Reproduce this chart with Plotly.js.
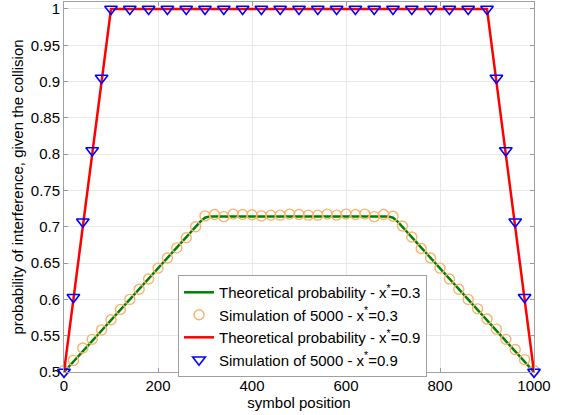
<!DOCTYPE html>
<html>
<head>
<meta charset="utf-8">
<script src="https://cdn.plot.ly/plotly-3.0.1.min.js"></script>
<style>html,body{margin:0;padding:0;background:#fff;}#chart{width:565px;height:415px;}</style>
</head>
<body>
<div id="chart"></div>
<script>
// Theoretical probability, x* = 0.3
const xTheo03 = [0, 290, 300, 310, 690, 700, 710, 1000];
const yTheo03 = [0.5, 0.7071, 0.7125, 0.7143, 0.7143, 0.7125, 0.7071, 0.5];

// Simulation of 5000, x* = 0.3
const xSim03 = [0, 20, 40, 60, 80, 100, 120, 140, 160, 180, 200, 220, 240, 260, 280, 300,
  320, 340, 360, 380, 400, 420, 440, 460, 480, 500, 520, 540, 560, 580, 600, 620, 640, 660, 680, 700,
  720, 740, 760, 780, 800, 820, 840, 860, 880, 900, 920, 940, 960, 980, 1000];
const ySim03 = [0.502, 0.516, 0.533, 0.545, 0.558, 0.572, 0.586, 0.600, 0.614, 0.628, 0.643, 0.657, 0.671, 0.685, 0.700, 0.7150,
  0.7170, 0.7140, 0.7175, 0.7170, 0.7165, 0.7150, 0.7160, 0.7160, 0.7175, 0.7170, 0.7160, 0.7160, 0.7175, 0.7160, 0.7175, 0.7170, 0.7175, 0.7140, 0.7170, 0.7145,
  0.701, 0.686, 0.670, 0.657, 0.643, 0.628, 0.614, 0.600, 0.587, 0.573, 0.559, 0.545, 0.531, 0.517, 0.502];

// Theoretical probability, x* = 0.9
const xTheo09 = [0, 100, 900, 1000];
const yTheo09 = [0.5, 1, 1, 0.5];

// Simulation of 5000, x* = 0.9
const xSim09 = [0, 20, 40, 60, 80, 100, 140, 180, 220, 260, 300, 340, 380, 420, 460, 500,
  540, 580, 620, 660, 700, 740, 780, 820, 860, 900, 920, 940, 960, 980, 1000];
const ySim09 = [0.5, 0.603, 0.707, 0.805, 0.905, 1, 1, 1, 1, 1, 1, 1, 1, 1, 1, 1,
  1, 1, 1, 1, 1, 1, 1, 1, 1, 1, 0.905, 0.805, 0.707, 0.603, 0.5];

const xTicks = [0, 200, 400, 600, 800, 1000];
const yTicks = [0.5, 0.55, 0.6, 0.65, 0.7, 0.75, 0.8, 0.85, 0.9, 0.95, 1];
const yTickText = ['0.5', '0.55', '0.6', '0.65', '0.7', '0.75', '0.8', '0.85', '0.9', '0.95', '1'];

const FONT = 'Liberation Sans, Arial, sans-serif';

const traces = [
  {x: xTheo03, y: yTheo03, type: 'scatter', mode: 'lines',
   name: 'Theoretical probability - x<sup>*</sup>=0.3',
   line: {color: '#008000', width: 2.5}, cliponaxis: false},
  {x: xSim03, y: ySim03, type: 'scatter', mode: 'markers',
   name: 'Simulation of 5000 - x<sup>*</sup>=0.3',
   marker: {symbol: 'circle-open', size: 10, color: '#F9B26C', line: {width: 1.4, color: '#F9B26C'}},
   cliponaxis: false},
  {x: xTheo09, y: yTheo09, type: 'scatter', mode: 'lines',
   name: 'Theoretical probability - x<sup>*</sup>=0.9',
   line: {color: '#FF0000', width: 2.5}, cliponaxis: false},
  {x: xSim09, y: ySim09, type: 'scatter', mode: 'markers',
   name: 'Simulation of 5000 - x<sup>*</sup>=0.9',
   marker: {symbol: 'triangle-down-open', size: 11, color: '#0000FF', line: {width: 1.6, color: '#0000FF'}},
   cliponaxis: false}
];

const layout = {
  width: 565, height: 415,
  margin: {l: 64, r: 31, t: 2, b: 43, pad: 0},
  paper_bgcolor: '#fff', plot_bgcolor: '#fff',
  font: {family: FONT, size: 15, color: '#000'},
  showlegend: true,
  legend: {
    x: 0.2426, y: 0.262, xanchor: 'left', yanchor: 'top',
    bgcolor: '#fff', bordercolor: '#a0a0a0', borderwidth: 1,
    font: {family: FONT, size: 15, color: '#000'},
    itemwidth: 30, tracegroupgap: 0
  },
  xaxis: {
    range: [0, 1000], tickmode: 'array', tickvals: xTicks,
    ticks: 'inside', ticklen: 4, tickcolor: '#999',
    showgrid: true, gridcolor: '#e8e8e8', gridwidth: 1,
    showline: true, linecolor: '#a0a0a0', linewidth: 1, mirror: 'ticks',
    zeroline: false, automargin: 'bottom',
    tickfont: {family: FONT, size: 15, color: '#000'},
    title: {text: 'symbol position', font: {family: FONT, size: 15, color: '#000'}, standoff: 3}
  },
  yaxis: {
    range: [0.5, 1.0096], tickmode: 'array', tickvals: yTicks, ticktext: yTickText,
    ticks: 'inside', ticklen: 4, tickcolor: '#999',
    showgrid: true, gridcolor: '#e8e8e8', gridwidth: 1,
    showline: true, linecolor: '#a0a0a0', linewidth: 1, mirror: 'ticks',
    zeroline: false, automargin: 'left',
    tickfont: {family: FONT, size: 15, color: '#000'},
    title: {text: 'probability of interference, given the collision', font: {family: FONT, size: 15, color: '#000'}, standoff: 3}
  }
};

Plotly.newPlot('chart', traces, layout, {displayModeBar: false, staticPlot: true});
</script>
</body>
</html>
